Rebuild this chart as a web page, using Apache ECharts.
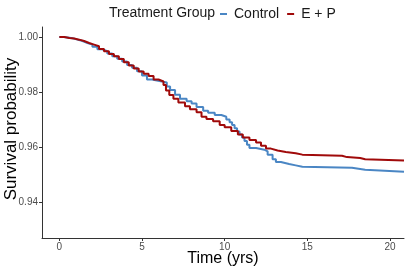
<!DOCTYPE html>
<html><head><meta charset="utf-8">
<script src="https://cdn.jsdelivr.net/npm/echarts@6/dist/echarts.min.js"></script>
<style>html,body{margin:0;padding:0;background:#fff}#c{width:407px;height:271px}</style>
</head><body><div id="c"></div>
<script>
const seriesNames = ["Control", "E + P"];
const xTitle = "Time (yrs)";
const yTitle = "Survival probability";
const controlTimes = [0,0.25,0.5,0.8,1.1,1.4,1.7,2.0,2.3,2.6,2.9,3.2,3.5,3.8,4.1,4.4,4.7,5.0,5.3,5.6,6.2,6.5,6.7,7.0,7.3,7.7,8.0,8.3,8.7,9.0,9.4,9.8,10.1,10.3,10.45,10.6,10.75,10.9,11.05,11.2,11.35,11.5,11.9,12.4,12.6,12.9,13.1,13.4,13.9,14.3,14.7,17.7,18.5,20.85];
const controlSurv = [1.0000,0.9998,0.9995,0.9990,0.9985,0.9978,0.9972,0.9964,0.9955,0.9948,0.9940,0.9930,0.9921,0.9911,0.9898,0.9888,0.9875,0.9860,0.9845,0.9838,0.9834,0.9820,0.9807,0.9790,0.9775,0.9766,0.9758,0.9745,0.9732,0.9724,0.9716,0.9710,0.9700,0.9690,0.9680,0.9668,0.9656,0.9645,0.9634,0.9622,0.9608,0.9596,0.9590,0.9584,0.9572,0.9555,0.9545,0.9538,0.9533,0.9528,0.9524,0.9517,0.9510,0.9510];
const epTimes = [0,0.3,0.6,0.9,1.2,1.5,1.8,2.1,2.4,2.7,3.0,3.3,3.6,3.9,4.2,4.5,4.8,5.1,5.4,5.7,6.0,6.3,6.45,6.65,6.9,7.2,7.6,7.9,8.3,8.6,8.9,9.3,9.7,10.0,10.4,10.8,11.1,11.5,11.9,12.2,12.5,12.8,13.2,13.7,14.3,14.7,17.1,17.4,18.2,18.5,20.85];
const epSurv = [1.0000,0.9996,0.9994,0.9990,0.9985,0.9978,0.9972,0.9966,0.9956,0.9948,0.9938,0.9930,0.9920,0.9908,0.9896,0.9885,0.9874,0.9866,0.9858,0.9845,0.9838,0.9825,0.9805,0.9789,0.9775,0.9762,0.9748,0.9737,0.9726,0.9710,0.9702,0.9693,0.9680,0.9672,0.9658,0.9645,0.9634,0.9625,0.9616,0.9604,0.9594,0.9587,0.9582,0.9577,0.9572,0.9568,0.9563,0.9560,0.9555,0.9551,0.9551];
const xTicks = [0,5,10,15,20];
const yTicks = [0.94,0.96,0.98,1.00];

const font = "Liberation Sans, Arial, sans-serif";
const chart = echarts.init(document.getElementById('c'), null, {renderer:'canvas'});
const pair = (t,s) => t.map((v,i)=>[v,s[i]]);
chart.setOption({
  animation:false,
  backgroundColor:'#fff',
  grid:{left:42,right:3,top:27,bottom:33,containLabel:false,outerBoundsMode:'none'},
  title:{text:'Treatment Group',left:109,top:6,textStyle:{fontFamily:font,fontSize:14,fontWeight:'normal',color:'#1a1a1a'},padding:0},
  legend:{left:220,top:7,padding:0,itemWidth:7,itemHeight:2,itemGap:8,
    textStyle:{fontFamily:font,fontSize:14,color:'#1a1a1a',padding:[0,0,0,2]},
    data:[{name:seriesNames[0],icon:'rect'},{name:seriesNames[1],icon:'rect'}]},
  graphic:[
    {type:'text',x:223,y:259,style:{text:xTitle,font:'16px '+font,fill:'#000',align:'center',verticalAlign:'middle'}},
    {type:'text',x:11,y:129,rotation:Math.PI/2,style:{text:yTitle,font:'17px '+font,fill:'#000',align:'center',verticalAlign:'middle'}}
  ],
  xAxis:{type:'value',min:-1.05,max:20.85,
    axisLine:{show:true,onZero:false,lineStyle:{color:'#333',width:1}},
    axisTick:{show:true,length:3,customValues:xTicks,lineStyle:{color:'#333'}},
    axisLabel:{customValues:xTicks,fontFamily:font,fontSize:10,color:'#4d4d4d',margin:4},
    splitLine:{show:false}},
  yAxis:{type:'value',min:0.9269,max:1.0036,
    axisLine:{show:true,onZero:false,lineStyle:{color:'#333',width:1}},
    axisTick:{show:true,length:3,customValues:yTicks,lineStyle:{color:'#333'}},
    axisLabel:{customValues:yTicks,fontFamily:font,fontSize:10,color:'#4d4d4d',margin:4,formatter:v=>v.toFixed(2)},
    splitLine:{show:false}},
  series:[
    {name:seriesNames[0],type:'line',step:'end',showSymbol:false,data:pair(controlTimes,controlSurv),
      color:'#4a86c4',lineStyle:{width:2,color:'#4a86c4'}},
    {name:seriesNames[1],type:'line',step:'end',showSymbol:false,data:pair(epTimes,epSurv),
      color:'#a00a0a',lineStyle:{width:2,color:'#a00a0a'}}
  ]
});
</script></body></html>
